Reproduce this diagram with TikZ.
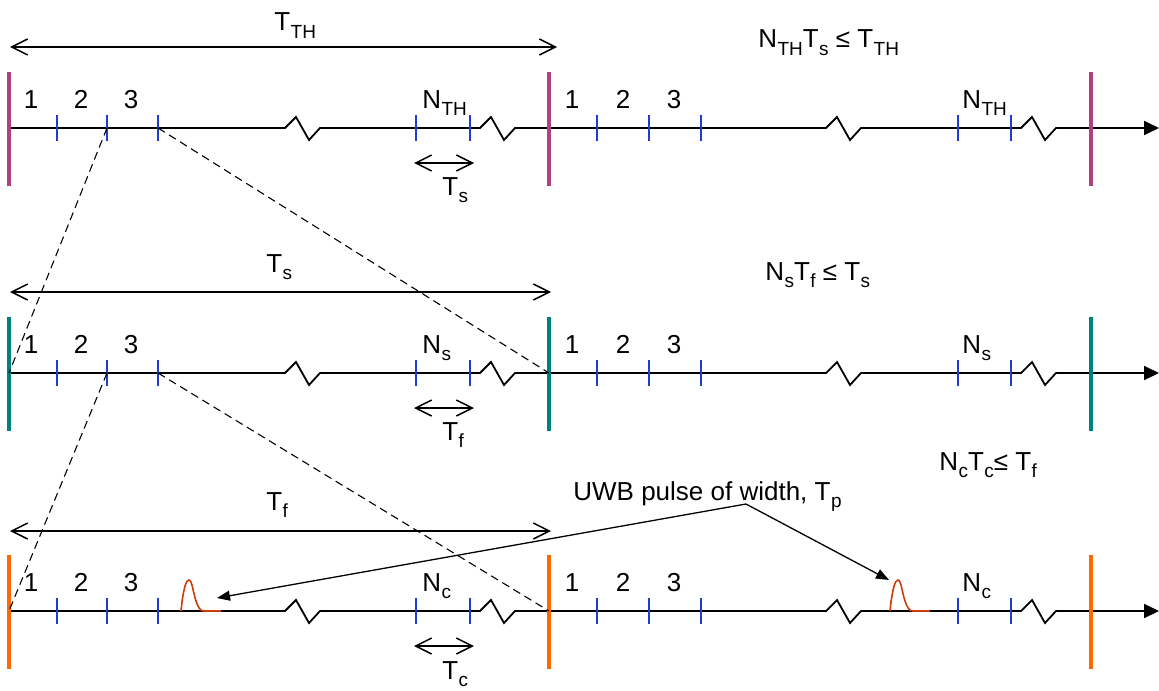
\documentclass[tikz,border=0pt]{standalone}
\usepackage{fontspec}
\setmainfont{Liberation Sans}
\usetikzlibrary{arrows.meta}
\newcommand\lowsub[1]{\kern0.2pt\raisebox{-3.6pt}{\fontsize{9.5}{9.5}\selectfont #1}}
\definecolor{magbar}{RGB}{176,64,128}
\definecolor{tealbar}{RGB}{0,128,128}
\definecolor{orbar}{RGB}{255,106,0}
\definecolor{tickblue}{RGB}{30,60,210}
\definecolor{pulsered}{RGB}{205,60,10}
\tikzset{
 axisline/.style={line width=0.9pt, -{Triangle[length=7.5pt,width=7pt]}},
 barline/.style={line width=2pt},
 tickline/.style={tickblue, line width=0.8pt},
 span/.style={line width=0.75pt, {Straight Barb[length=8pt,width=8pt]}-{Straight Barb[length=8pt,width=8pt]}},
 guide/.style={line width=0.55pt, dash pattern=on 4pt off 2.5pt},
 ptr/.style={line width=0.65pt, -{Triangle[length=6.5pt,width=5pt]}},
 lbl/.style={font=\fontsize{13}{15}\selectfont, inner sep=0pt},
 pulse/.style={pulsered, line width=0.8pt},
}
% #1 axis y, #2 bar colour, #3 N subscript, #4 prefix
\newcommand\timerow[4]{%
 \coordinate (#4b0) at (9,#1);
 \coordinate (#4b1) at (549,#1);
 \coordinate (#4t2) at (107,#1);
 \coordinate (#4t3) at (158,#1);
 \draw[axisline] (#4b0) -- (285,#1) -- ++(11,-11) -- ++(13,23) -- ++(11,-12)
   -- (480,#1) -- ++(11,-11) -- ++(13,23) -- ++(11,-12)
   -- (826,#1) -- ++(11,-11) -- ++(13,23) -- ++(11,-12)
   -- (1021,#1) -- ++(11,-11) -- ++(13,23) -- ++(11,-12) -- (1159,#1);
 \foreach \bx in {9,549,1091} \draw[barline,#2] (\bx,{#1-56}) -- (\bx,{#1+58});
 \foreach \tx in {57,107,158,416,470,597,649,701,958,1011}
   \draw[tickline] (\tx,{#1-13}) -- (\tx,{#1+13});
 \node[lbl,anchor=base] (#4la1) at (31,{#1-20}) {1};
 \node[lbl,anchor=base] (#4la2) at (81,{#1-20}) {2};
 \node[lbl,anchor=base] (#4la3) at (131,{#1-20}) {3};
 \node[lbl,anchor=base west] (#4laN) at (422,{#1-20}) {N\lowsub{#3}};
 \node[lbl,anchor=base] (#4lb1) at (572,{#1-20}) {1};
 \node[lbl,anchor=base] (#4lb2) at (623,{#1-20}) {2};
 \node[lbl,anchor=base] (#4lb3) at (674,{#1-20}) {3};
 \node[lbl,anchor=base west] (#4lbN) at (962,{#1-20}) {N\lowsub{#3}};
}
\begin{document}
\begin{tikzpicture}[x=0.5pt,y=-0.5pt]
\useasboundingbox (0,0) rectangle (1159,690);

\timerow{128}{magbar}{TH}{r1}
\timerow{373}{tealbar}{s}{r2}
\timerow{611}{orbar}{c}{r3}

% row 1 spans and labels
\coordinate (s1a) at (10,47); \coordinate (s1b) at (557,47);
\draw[span] (s1a) -- (s1b);
\node[lbl,anchor=base west] (lTTH) at (274,31) {T\lowsub{TH}};
\coordinate (u1a) at (414,163); \coordinate (u1b) at (474,163);
\draw[span] (u1a) -- (u1b);
\node[lbl,anchor=base west] (lTs1) at (442,195) {T\lowsub{s}};
\node[lbl,anchor=base west] (eq1) at (758,48) {N\lowsub{TH}T\lowsub{s} ≤ T\lowsub{TH}};

% row 2
\coordinate (s2a) at (10,292); \coordinate (s2b) at (551,292);
\draw[span] (s2a) -- (s2b);
\node[lbl,anchor=base west] (lTs2) at (266,272) {T\lowsub{s}};
\coordinate (u2a) at (414,408); \coordinate (u2b) at (474,408);
\draw[span] (u2a) -- (u2b);
\node[lbl,anchor=base west] (lTf2) at (442,440) {T\lowsub{f}};
\node[lbl,anchor=base west] (eq2) at (765,280) {N\lowsub{s}T\lowsub{f} ≤ T\lowsub{s}};

% row 3
\coordinate (s3a) at (10,531); \coordinate (s3b) at (551,531);
\draw[span] (s3a) -- (s3b);
\node[lbl,anchor=base west] (lTf3) at (266,510) {T\lowsub{f}};
\coordinate (u3a) at (414,646); \coordinate (u3b) at (474,646);
\draw[span] (u3a) -- (u3b);
\node[lbl,anchor=base west] (lTc3) at (442,679) {T\lowsub{c}};
\node[lbl,anchor=base west] (eq3) at (939,470) {N\lowsub{c}T\lowsub{c}≤ T\lowsub{f}};

% dashed zoom guides
\draw[guide] (r1t2) -- (r2b0);
\draw[guide] (r1t3) -- (r2b1);
\draw[guide] (r2t2) -- (r3b0);
\draw[guide] (r2t3) -- (r3b1);

% pulses
\foreach \px in {181,890}{
  \draw[pulse] (\px,611) -- (\px+1,602) .. controls (\px+3,588) and (\px+5,580) .. (\px+8,580)
    .. controls (\px+11,580) and (\px+12,592) .. (\px+15,601)
    .. controls (\px+17,607) and (\px+19,611) .. (\px+23,611) -- (\px+40,611);
}
\coordinate (tipa) at (217,598);
\coordinate (tipb) at (889,580);

% UWB label and pointers
\node[lbl,anchor=base west] (uwb) at (573,500) {UWB pulse of width, T\lowsub{p}};
\coordinate (uwbpt) at (746,504);
\draw[ptr] (uwbpt) -- (tipa);
\draw[ptr] (uwbpt) -- (tipb);
\end{tikzpicture}
\end{document}
